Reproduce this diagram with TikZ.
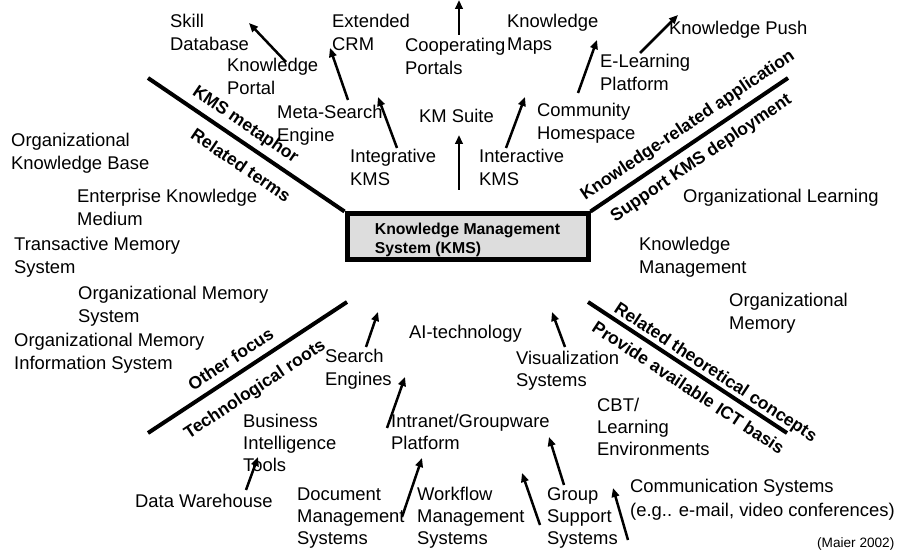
\documentclass[tikz,border=0pt]{standalone}
\usepackage{fontspec}
\setmainfont{Liberation Sans}
\usetikzlibrary{arrows.meta,calc}
\definecolor{boxgray}{RGB}{221,221,221}
\begin{document}
\begin{tikzpicture}[x=1bp,y=-1bp,
  % positions below are the baseline of each text's last line
  txt/.style={anchor=base west, inner sep=0, align=left,
    font=\fontsize{18.4bp}{22.3bp}\selectfont},
  lbl/.style={font=\bfseries\fontsize{17.5bp}{20bp}\selectfont,
    inner sep=0, anchor=base, sloped},
  sepline/.style={line width=4bp},
  arr/.style={line width=2.5bp, -{Triangle[length=9bp,width=7.5bp]}},
]
\useasboundingbox (0,0) rectangle (908,554);

% central box
\node (kms) [draw, line width=5bp, fill=boxgray, minimum width=241bp,
  minimum height=46bp, inner sep=0, align=left,
  font=\bfseries\fontsize{15.8bp}{19bp}\selectfont]
  at (467.5,237) {\rule{0pt}{17.5bp}Knowledge Management\\System (KMS)};

% four dividing lines with their labels
\coordinate (tl) at (148,78);
\coordinate (tr) at (788,78);
\coordinate (bl) at (148,433);
\coordinate (br) at (787,433);
\coordinate (blin) at (347,302);
\coordinate (brin) at (588,302);
\draw[sepline] (tl) -- (kms.north west)
  node[lbl, pos=0.45, yshift=11bp] (l1) {KMS metaphor}
  node[lbl, pos=0.53, yshift=-26bp] (l2) {Related terms};
\draw[sepline] (kms.north east) -- (tr)
  node[lbl, pos=0.54, yshift=12bp] (l3) {Knowledge-related application}
  node[lbl, pos=0.51, yshift=-22.7bp] (l4) {Support KMS deployment};
\draw[sepline] (bl) -- (blin)
  node[lbl, pos=0.46, yshift=10bp] (l5) {Other focus}
  node[lbl, pos=0.475, yshift=-27.5bp] (l6) {Technological roots};
\draw[sepline] (brin) -- (br)
  node[lbl, pos=0.61, yshift=6bp] (l7) {Related theoretical concepts}
  node[lbl, pos=0.55, yshift=-22.4bp] (l8) {Provide available ICT basis};

% KMS metaphor
\node[txt] (skill) at (170,50.3) {Skill\\Database};
\node[txt] (ecrm) at (332,50.3) {Extended\\CRM};
\node[txt] (kport) at (227,94.3) {Knowledge\\Portal};
\node[txt] (meta) at (277,141.3) {Meta-Search\\Engine};
\node[txt] (integ) at (350,185.3) {Integrative\\KMS};
\node[txt] (coop) at (405,74.3) {Cooperating\\Portals};
\node[txt] (kmaps) at (507,50.3) {Knowledge\\Maps};
\node[txt] (kpush) at (669,35) {Knowledge Push};
\node[txt] (elearn) at (600,90.3) {E-Learning\\Platform};
\node[txt] (kmsuite) at (419,123) {KM Suite};
\node[txt] (commun) at (537,139.3) {Community\\Homespace};
\node[txt] (interact) at (479,185.3) {Interactive\\KMS};

% related theoretical concepts
\node[txt] (orglearn) at (683,203) {Organizational Learning};
\node[txt] (km) at (639,273.3) {Knowledge\\Management};
\node[txt] (orgmem) at (729,329.3) {Organizational\\Memory};

% ICT basis and technological roots
\node[txt] (visual) at (516,386.3) {Visualization\\Systems};
\node[txt] (cbt) at (597,455.6) {CBT/\\Learning\\Environments};
\node[txt] (ai) at (409,339) {AI-technology};
\node[txt] (search) at (325,385.3) {Search\\Engines};
\node[txt] (bi) at (243,471.6) {Business\\Intelligence\\Tools};
\node[txt] (intranet) at (391,449.3) {Intranet/Groupware\\Platform};
\node[txt] (dw) at (135,507) {Data Warehouse};
\node[txt] (dms) at (297,544.6) {Document\\Management\\Systems};
\node[txt] (wfms) at (417,544.6) {Workflow\\Management\\Systems};
\node[txt] (gss) at (547,544.6) {Group\\Support\\Systems};
\node[txt, font=\fontsize{18.4bp}{24bp}\selectfont] (comm) at (630,516)
  {Communication Systems\\(e.g.. e-mail, video conferences)};
\node[anchor=base west, inner sep=0, font=\fontsize{13.6bp}{16bp}\selectfont]
  (maier) at (817,547) {(Maier 2002)};

% related terms
\node[txt] (okb) at (11,169.3) {Organizational\\Knowledge Base};
\node[txt] (ekm) at (77,225.3) {Enterprise Knowledge\\Medium};
\node[txt] (tms) at (14,273.3) {Transactive Memory\\System};
\node[txt] (oms) at (78,322.3) {Organizational Memory\\System};
\node[txt] (omis) at (14,369.3) {Organizational Memory\\Information System};

% development arrows
\coordinate (a1s) at (286,62);  \coordinate (a1e) at (249,23);
\coordinate (a2s) at (348,100); \coordinate (a2e) at (330,48);
\coordinate (a3s) at (397,148); \coordinate (a3e) at (378,97);
\coordinate (a4s) at (459,35);  \coordinate (a4e) at (459,0);
\coordinate (a5s) at (459,190); \coordinate (a5e) at (459,135);
\coordinate (a6s) at (506,148); \coordinate (a6e) at (525,97);
\coordinate (a7s) at (578,93);  \coordinate (a7e) at (597,40);
\coordinate (a8s) at (640,53);  \coordinate (a8e) at (678,15);
\coordinate (b1s) at (366,347); \coordinate (b1e) at (378,312);
\coordinate (b2s) at (387,428); \coordinate (b2e) at (405,377);
\coordinate (b3s) at (565,347); \coordinate (b3e) at (552,312);
\coordinate (b4s) at (246,490); \coordinate (b4e) at (258,457);
\coordinate (b5s) at (402,517); \coordinate (b5e) at (422,458);
\coordinate (b6s) at (540,525); \coordinate (b6e) at (522,473);
\coordinate (b7s) at (564,485); \coordinate (b7e) at (549,437);
\coordinate (b8s) at (628,540); \coordinate (b8e) at (613,488);
\foreach \s/\e in {a1s/a1e,a2s/a2e,a3s/a3e,a4s/a4e,a5s/a5e,a6s/a6e,a7s/a7e,a8s/a8e,
  b1s/b1e,b2s/b2e,b3s/b3e,b4s/b4e,b5s/b5e,b6s/b6e,b7s/b7e,b8s/b8e}
  \draw[arr] (\s) -- (\e);
\end{tikzpicture}
\end{document}
